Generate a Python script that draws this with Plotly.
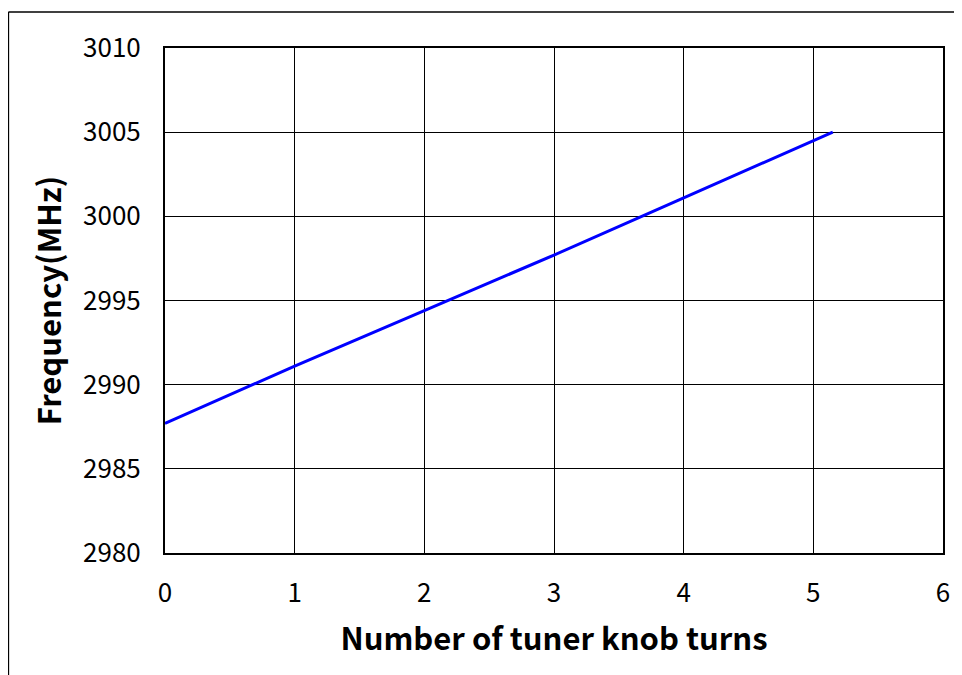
import plotly.graph_objects as go

turns = [0, 1, 2, 3, 4, 5, 5.15]
freq_mhz = [2987.7, 2991.1, 2994.4, 2997.7, 3001.1, 3004.5, 3005.0]
x_ticks = [0, 1, 2, 3, 4, 5, 6]
y_ticks = [2980, 2985, 2990, 2995, 3000, 3005, 3010]

FONT = "Noto Sans CJK JP"
OFF = 8  # default page body margin
W, H = 962 - OFF, 675 - OFF
L, R, T, B = 165 - OFF, 17, 48 - OFF, 122

fig = go.Figure()
fig.add_trace(go.Scatter(x=turns, y=freq_mhz, mode="lines",
                         line=dict(color="#0000ff", width=3), showlegend=False))

def px2paper_x(px):
    return (px - OFF - L) / (W - L - R)

def px2paper_y(py):
    return (H - B - (py - OFF)) / (H - T - B)

fig.update_layout(
    width=W, height=H,
    margin=dict(l=L, r=R, t=T, b=B),
    paper_bgcolor="white", plot_bgcolor="white",
    font=dict(family=FONT, color="black"),
    xaxis=dict(range=[0, 6], tickvals=x_ticks, ticktext=[str(v) for v in x_ticks],
               showgrid=True, gridcolor="black", gridwidth=1,
               showline=True, linecolor="black", linewidth=2, mirror=True,
               zeroline=False, ticks="", ticklabelstandoff=16,
               tickfont=dict(size=26, family=FONT),
               title=dict(text="Number of tuner knob turns", standoff=20,
                          font=dict(size=31, family=FONT, weight="bold"))),
    yaxis=dict(range=[2980, 3010], tickvals=y_ticks, ticktext=[str(v) for v in y_ticks],
               showgrid=True, gridcolor="black", gridwidth=1,
               showline=True, linecolor="black", linewidth=2, mirror=True,
               zeroline=False, ticks="", ticklabelstandoff=17,
               tickfont=dict(size=26, family=FONT),
               title=dict(text="Frequency(MHz)", standoff=12,
                          font=dict(size=31, family=FONT, weight="bold"))),
    shapes=[
        dict(type="line", xref="paper", yref="paper",
             x0=px2paper_x(8), y0=px2paper_y(12), x1=px2paper_x(980), y1=px2paper_y(12),
             line=dict(color="black", width=1.5)),
        dict(type="line", xref="paper", yref="paper",
             x0=px2paper_x(8), y0=px2paper_y(12), x1=px2paper_x(8), y1=px2paper_y(700),
             line=dict(color="black", width=1.5)),
    ],
)

fig.write_html("out.html")
